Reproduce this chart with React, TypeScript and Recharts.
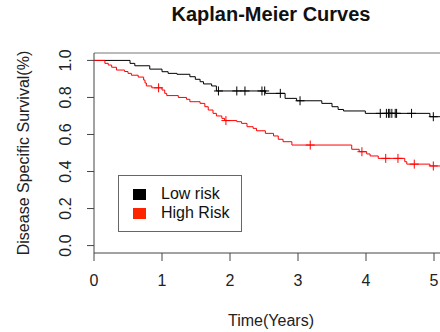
import React from 'react'
import {
  ComposedChart, Line, Scatter, XAxis, YAxis, ReferenceLine
} from 'recharts'

// step points of the two KM curves (time in years, survival)
const lowTimes = [0, 0.53, 0.60, 0.82, 1.00, 1.09, 1.22, 1.41, 1.49, 1.56, 1.61, 1.73, 1.80, 2.52, 2.81, 2.98, 3.35, 3.50, 3.59, 3.67, 3.99, 4.94, 5.10]
const lowSurv = [1.0, 0.984, 0.971, 0.953, 0.939, 0.930, 0.925, 0.912, 0.898, 0.885, 0.873, 0.862, 0.835, 0.822, 0.795, 0.782, 0.768, 0.750, 0.735, 0.727, 0.714, 0.696, 0.696]
const lowCensor = [1.83, 2.10, 2.22, 2.47, 2.51, 2.74, 3.03, 4.21, 4.30, 4.33, 4.35, 4.38, 4.43, 4.45, 4.67, 4.99]

const highTimes = [0, 0.16, 0.21, 0.26, 0.33, 0.45, 0.50, 0.55, 0.65, 0.73, 0.75, 0.77, 0.85, 1.00, 1.04, 1.07, 1.24, 1.36, 1.41, 1.56, 1.63, 1.68, 1.75, 1.80, 1.88, 1.92, 2.10, 2.17, 2.25, 2.34, 2.39, 2.52, 2.64, 2.71, 2.78, 2.91, 3.79, 3.90, 4.01, 4.06, 4.18, 4.57, 4.60, 4.94, 5.10]
const highSurv = [1.0, 0.984, 0.975, 0.963, 0.948, 0.940, 0.930, 0.920, 0.910, 0.894, 0.878, 0.862, 0.852, 0.840, 0.822, 0.810, 0.800, 0.790, 0.777, 0.768, 0.750, 0.732, 0.714, 0.700, 0.687, 0.675, 0.669, 0.660, 0.642, 0.633, 0.620, 0.606, 0.592, 0.574, 0.561, 0.543, 0.520, 0.507, 0.495, 0.484, 0.471, 0.453, 0.440, 0.430, 0.430]
const highCensor = [0.95, 1.94, 3.18, 3.94, 4.29, 4.47, 4.71, 4.99]

const groups = ['Low risk', 'High Risk']
const groupColors = ['#000', '#ff2400']

const xTicks = [0, 1, 2, 3, 4, 5]
const yTicks = [0, 0.2, 0.4, 0.6, 0.8, 1.0]
const yTickLabels = ['0.0', '0.2', '0.4', '0.6', '0.8', '1.0']

const FONT = '"Liberation Sans", Arial, Helvetica, sans-serif'

const toRows = (times: number[], surv: number[]) => times.map((t, i) => ({ t, s: surv[i] }))
// value of the step function at a censoring time
const stepAt = (times: number[], surv: number[], t: number) => {
  let v = surv[0]
  for (let i = 0; i < times.length; i++) if (times[i] <= t) v = surv[i]
  return v
}
const censorRows = (times: number[], surv: number[], c: number[]) => c.map(t => ({ t, s: stepAt(times, surv, t) }))

const lowData = toRows(lowTimes, lowSurv)
const highData = toRows(highTimes, highSurv)
const lowMarks = censorRows(lowTimes, lowSurv, lowCensor)
const highMarks = censorRows(highTimes, highSurv, highCensor)

const plus = (color: string) => (p: any) => (
  <path d={`M${p.cx - 4.5},${p.cy}H${p.cx + 4.5}M${p.cx},${p.cy - 4.5}V${p.cy + 4.5}`} stroke={color} strokeWidth={1} fill="none" />
)

const XTick = (p: any) => (
  <text x={p.x} y={p.y + 23} textAnchor="middle" fontSize={16} fontFamily={FONT} fill="#222">{p.payload.value}</text>
)
const YTick = (p: any) => {
  const i = yTicks.indexOf(p.payload.value)
  return (
    <text x={0} y={0} transform={`translate(${p.x - 14},${p.y}) rotate(-90)`} textAnchor="middle" fontSize={16} fontFamily={FONT} fill="#222">
      {yTickLabels[i]}
    </text>
  )
}

const LegendBox = () => (
  <div style={{ position: 'absolute', left: 118, top: 175, width: 122, height: 55, border: '1px solid #666', background: '#fff', fontFamily: FONT, fontSize: 16, color: '#111' }}>
    {groups.map((g, i) => (
      <React.Fragment key={g}>
        <div style={{ position: 'absolute', left: 14, top: 13 + i * 19, width: 13, height: 11, background: groupColors[i] }} />
        <div style={{ position: 'absolute', left: 42, top: 9 + i * 19, lineHeight: '18px' }}>{g}</div>
      </React.Fragment>
    ))}
  </div>
)

export default function App() {
  return (
    <div style={{ position: 'absolute', left: 0, top: 0, width: 440, height: 332, overflow: 'hidden', background: '#fff' }}>
      <div style={{ position: 'absolute', top: 3, left: 0, width: 542, textAlign: 'center', fontFamily: FONT, fontWeight: 'bold', fontSize: 20, color: '#111' }}>
        Kaplan-Meier Curves
      </div>
      <ComposedChart width={448} height={332} margin={{ top: 53, right: 0, bottom: 0, left: 0 }}>
        <XAxis
          type="number" dataKey="t" domain={[0, 354 / 68]} ticks={xTicks} allowDataOverflow
          height={79} tickSize={8} stroke="#444" tick={<XTick />}
          label={{ value: 'Time(Years)', position: 'insideBottom', offset: 6, fontSize: 16, fontFamily: FONT, fill: '#222' } as any}
        />
        <YAxis
          type="number" dataKey="s" domain={[-0.04, 1.04]} ticks={yTicks} allowDataOverflow
          width={94} tickSize={7} stroke="#444" tick={<YTick />}
          label={{ value: 'Disease Specific Survival(%)', angle: -90, position: 'insideLeft', offset: 23, fontSize: 16, fontFamily: FONT, fill: '#222', style: { textAnchor: 'middle' } } as any}
        />
        <ReferenceLine y={1.04} stroke="#777" />
        <Line data={lowData} dataKey="s" name={groups[0]} type="stepAfter" stroke="#000" strokeWidth={1} dot={false} isAnimationActive={false} />
        <Line data={highData} dataKey="s" name={groups[1]} type="stepAfter" stroke="#ff0000" strokeWidth={1} dot={false} isAnimationActive={false} />
        <Scatter data={lowMarks} dataKey="s" shape={plus('#000')} isAnimationActive={false} />
        <Scatter data={highMarks} dataKey="s" shape={plus('#ff0000')} isAnimationActive={false} />
      </ComposedChart>
      <LegendBox />
    </div>
  )
}
